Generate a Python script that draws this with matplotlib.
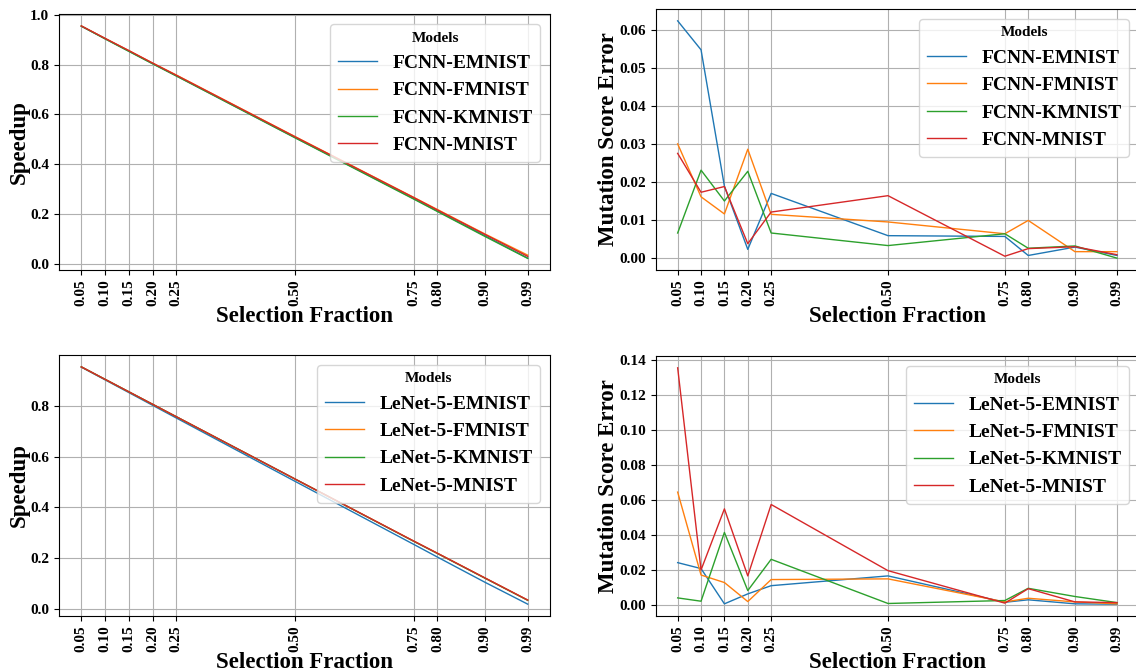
import matplotlib
matplotlib.use("Agg")
import matplotlib.pyplot as plt

plt.rcParams['font.family'] = ['Liberation Serif', 'DejaVu Serif']
plt.rcParams['font.weight'] = 'bold'
plt.rcParams['axes.labelweight'] = 'bold'

fractions = [0.05, 0.10, 0.15, 0.20, 0.25, 0.50, 0.75, 0.80, 0.90, 0.99]
tick_labels = ["0.05", "0.10", "0.15", "0.20", "0.25", "0.50", "0.75", "0.80", "0.90", "0.99"]

fcnn_names = ["FCNN-EMNIST", "FCNN-FMNIST", "FCNN-KMNIST", "FCNN-MNIST"]
lenet_names = ["LeNet-5-EMNIST", "LeNet-5-FMNIST", "LeNet-5-KMNIST", "LeNet-5-MNIST"]

# Speedup, FCNN
fcnn_speed_emnist = [0.954, 0.904, 0.854, 0.804, 0.755, 0.507, 0.262, 0.212, 0.113, 0.023]
fcnn_speed_fmnist = [0.955, 0.905, 0.856, 0.806, 0.758, 0.511, 0.267, 0.218, 0.120, 0.035]
fcnn_speed_kmnist = [0.954, 0.903, 0.853, 0.803, 0.754, 0.506, 0.260, 0.210, 0.110, 0.022]
fcnn_speed_mnist = [0.955, 0.905, 0.856, 0.806, 0.757, 0.510, 0.266, 0.216, 0.118, 0.030]

# Mutation score error, FCNN
fcnn_err_emnist = [0.0623, 0.0547, 0.0189, 0.0023, 0.0170, 0.0059, 0.0057, 0.0007, 0.0029, 0.0007]
fcnn_err_fmnist = [0.0300, 0.0161, 0.0116, 0.0286, 0.0115, 0.0095, 0.0064, 0.0099, 0.0017, 0.0017]
fcnn_err_kmnist = [0.0066, 0.0231, 0.0150, 0.0228, 0.0066, 0.0033, 0.0064, 0.0026, 0.0032, 0.0000]
fcnn_err_mnist = [0.0275, 0.0173, 0.0188, 0.0038, 0.0121, 0.0164, 0.0005, 0.0025, 0.0030, 0.0009]

# Speedup, LeNet-5
lenet_speed_emnist = [0.952, 0.902, 0.852, 0.802, 0.752, 0.503, 0.255, 0.205, 0.106, 0.020]
lenet_speed_fmnist = [0.953, 0.904, 0.855, 0.806, 0.757, 0.512, 0.268, 0.220, 0.123, 0.036]
lenet_speed_kmnist = [0.953, 0.904, 0.855, 0.806, 0.757, 0.512, 0.267, 0.219, 0.122, 0.035]
lenet_speed_mnist = [0.953, 0.904, 0.855, 0.806, 0.757, 0.512, 0.268, 0.220, 0.123, 0.036]

# Mutation score error, LeNet-5
lenet_err_emnist = [0.0242, 0.0208, 0.0006, 0.0063, 0.0110, 0.0166, 0.0015, 0.0029, 0.0006, 0.0004]
lenet_err_fmnist = [0.0646, 0.0171, 0.0128, 0.0019, 0.0145, 0.0149, 0.0017, 0.0038, 0.0017, 0.0006]
lenet_err_kmnist = [0.0040, 0.0021, 0.0415, 0.0082, 0.0261, 0.0008, 0.0025, 0.0095, 0.0048, 0.0013]
lenet_err_mnist = [0.1358, 0.0200, 0.0550, 0.0166, 0.0575, 0.0196, 0.0010, 0.0093, 0.0017, 0.0013]

colors = ["#1f77b4", "#ff7f0e", "#2ca02c", "#d62728"]

W, H = 1136, 672
fig = plt.figure(figsize=(W / 100, H / 100), dpi=100)

def box(l, r, t, b):
    return [l / W, 1 - b / H, (r - l) / W, (b - t) / H]

ax_tl = fig.add_axes(box(59, 550, 14.3, 270))
ax_tr = fig.add_axes(box(655.7, 1139, 9, 270))
ax_bl = fig.add_axes(box(59, 550, 355, 616))
ax_br = fig.add_axes(box(655.7, 1139, 356, 616))

panels = [
    (ax_tl, [fcnn_speed_emnist, fcnn_speed_fmnist, fcnn_speed_kmnist, fcnn_speed_mnist], fcnn_names, "Speedup"),
    (ax_tr, [fcnn_err_emnist, fcnn_err_fmnist, fcnn_err_kmnist, fcnn_err_mnist], fcnn_names, "Mutation Score Error"),
    (ax_bl, [lenet_speed_emnist, lenet_speed_fmnist, lenet_speed_kmnist, lenet_speed_mnist], lenet_names, "Speedup"),
    (ax_br, [lenet_err_emnist, lenet_err_fmnist, lenet_err_kmnist, lenet_err_mnist], lenet_names, "Mutation Score Error"),
]

for ax, series, names, ylab in panels:
    for vals, name, c in zip(series, names, colors):
        ax.plot(fractions, vals, color=c, lw=1.0, label=name)
    ax.set_xticks(fractions)
    ax.set_xticklabels(tick_labels, rotation=90, fontsize=11, fontweight='bold')
    for lab in ax.get_yticklabels():
        lab.set_fontsize(11)
        lab.set_fontweight('bold')
    ax.tick_params(axis='both', labelsize=11)
    ax.grid(True, color='#b0b0b0', lw=0.8)
    ax.set_xlabel("Selection Fraction", fontsize=16.5, fontweight='bold', labelpad=0)
    ax.set_ylabel(ylab, fontsize=16.5, fontweight='bold', labelpad=0.5)
    leg = ax.legend(title="Models", loc='upper right', prop={'size': 14, 'weight': 'bold'},
                    title_fontproperties={'size': 11, 'weight': 'bold'})

fig.savefig("out.png", dpi=100)
